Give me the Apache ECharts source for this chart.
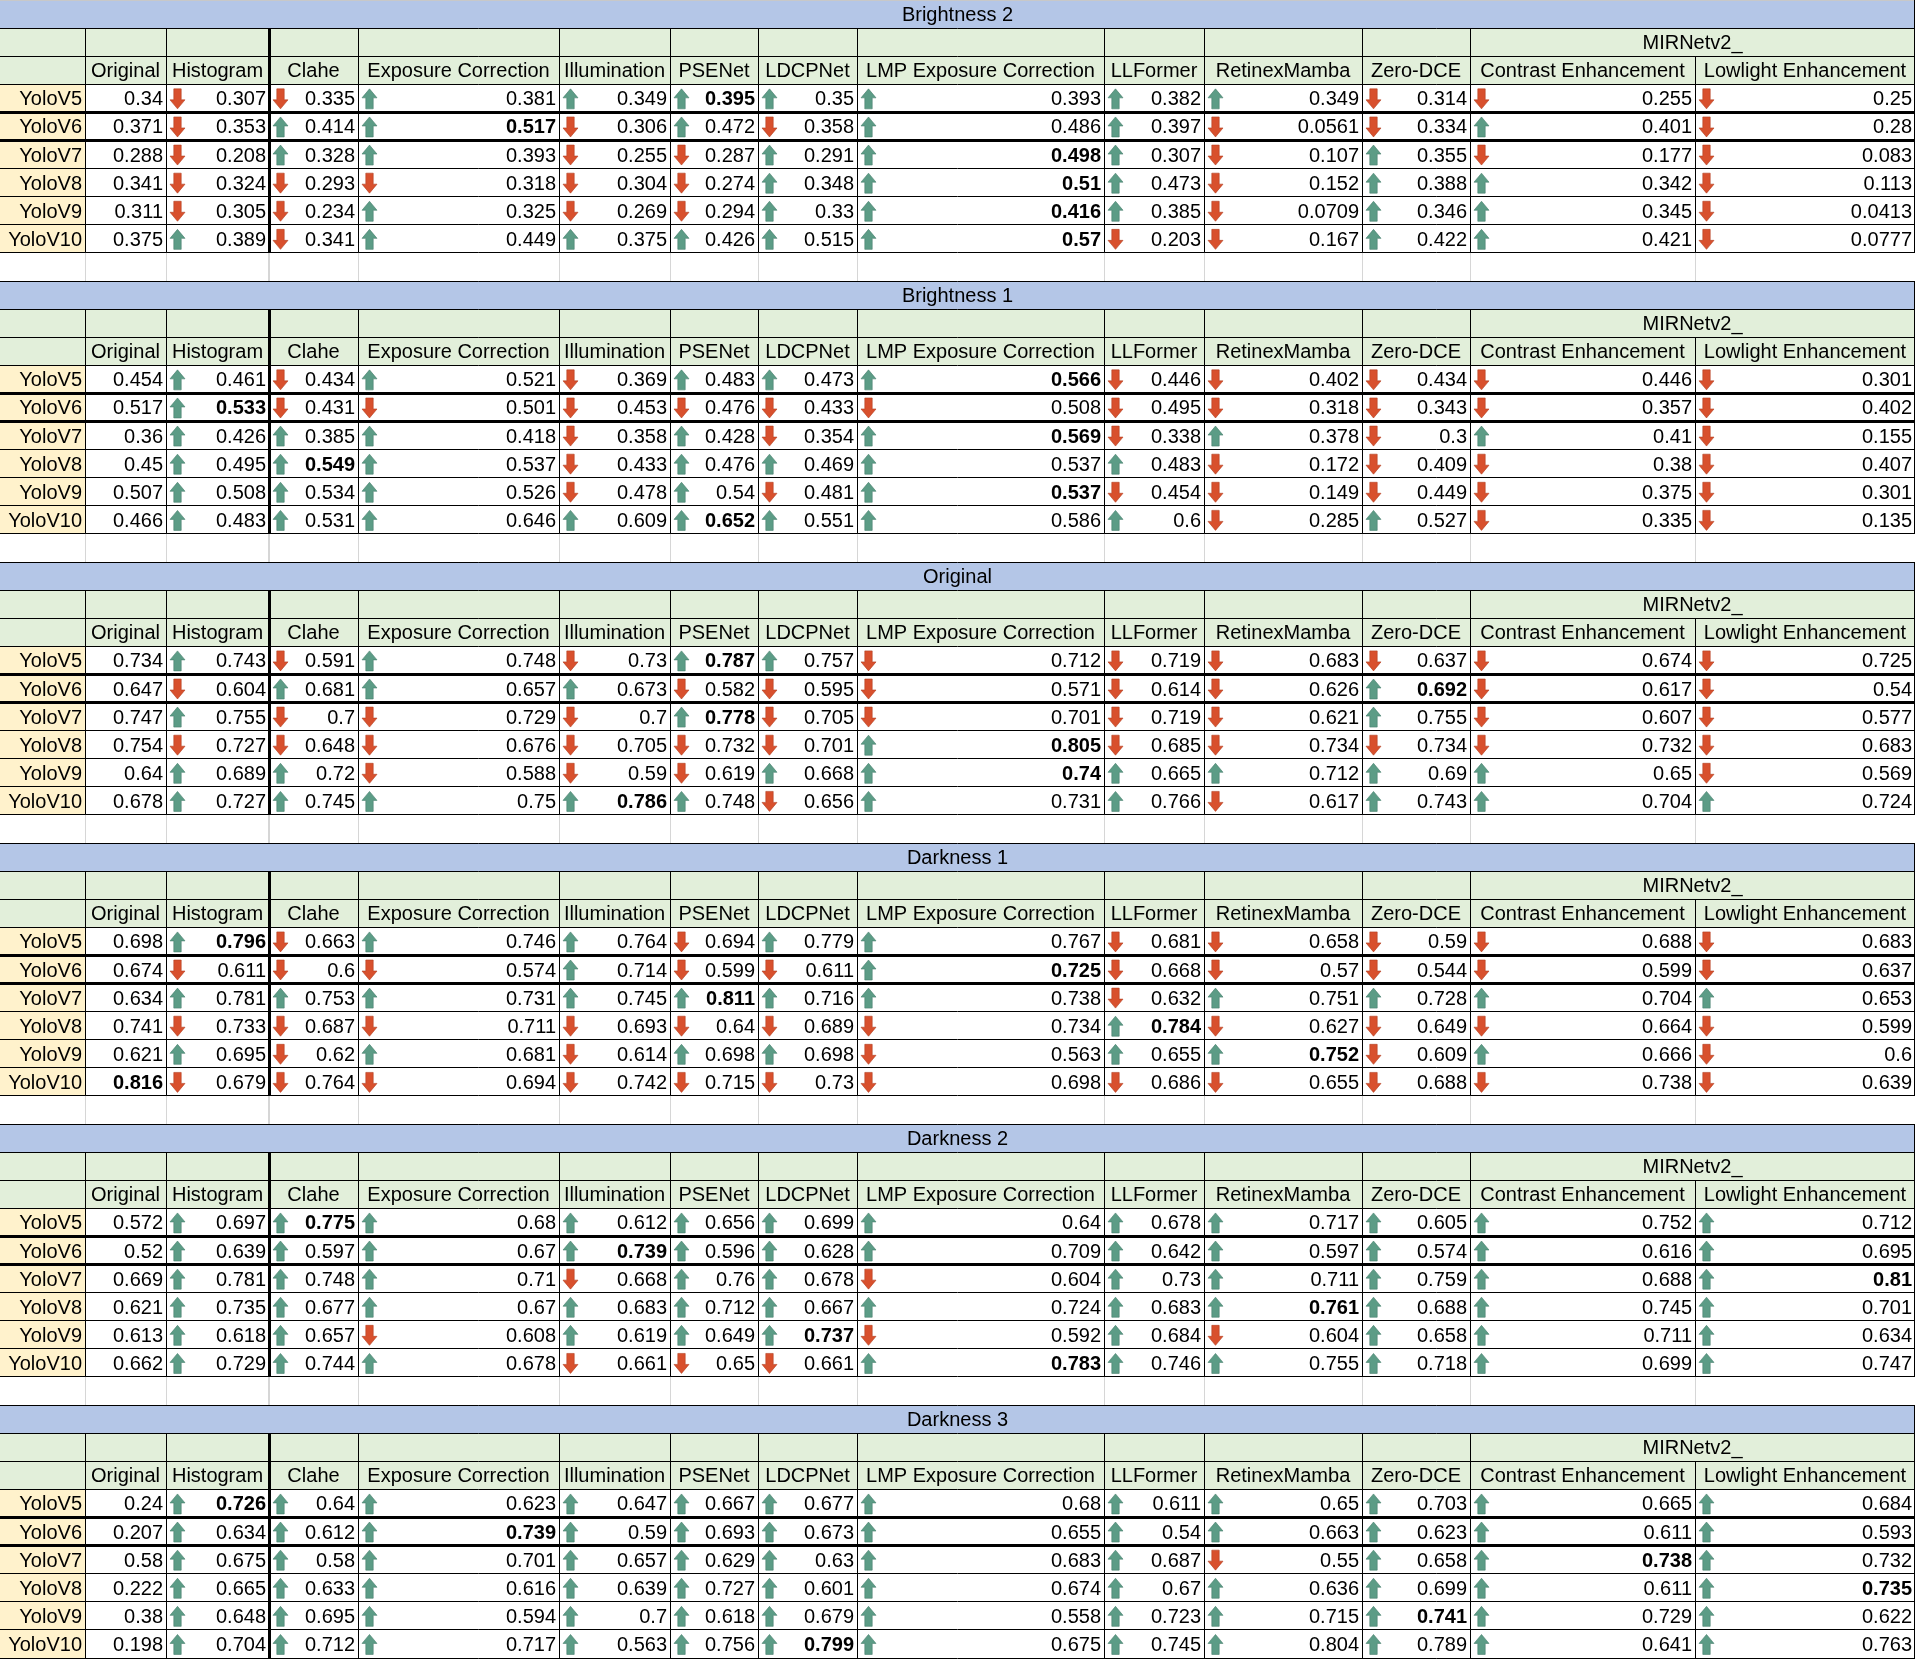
<!DOCTYPE html>
<html>
<head>
<meta charset="utf-8">
<script src="https://cdn.jsdelivr.net/npm/echarts@6/dist/echarts.min.js"></script>
<style>
html, body { margin: 0; padding: 0; background: #fff; }
#chart { width: 1927px; height: 1669px; }
</style>
</head>
<body>
<div id="chart"></div>
<script>
// 表格数据
var models = ['YoloV5', 'YoloV6', 'YoloV7', 'YoloV8', 'YoloV9', 'YoloV10'];
var methods = ['Original', 'Histogram', 'Clahe', 'Exposure Correction', 'Illumination', 'PSENet', 'LDCPNet',
    'LMP Exposure Correction', 'LLFormer', 'RetinexMamba', 'Zero-DCE', 'Contrast Enhancement', 'Lowlight Enhancement'];
var groupLabel = 'MIRNetv2_';
var blockTitles = ['Brightness 2', 'Brightness 1', 'Original', 'Darkness 1', 'Darkness 2', 'Darkness 3'];

var brightness2 = [
    [0.34, 0.307, 0.335, 0.381, 0.349, 0.395, 0.35, 0.393, 0.382, 0.349, 0.314, 0.255, 0.25],
    [0.371, 0.353, 0.414, 0.517, 0.306, 0.472, 0.358, 0.486, 0.397, 0.0561, 0.334, 0.401, 0.28],
    [0.288, 0.208, 0.328, 0.393, 0.255, 0.287, 0.291, 0.498, 0.307, 0.107, 0.355, 0.177, 0.083],
    [0.341, 0.324, 0.293, 0.318, 0.304, 0.274, 0.348, 0.51, 0.473, 0.152, 0.388, 0.342, 0.113],
    [0.311, 0.305, 0.234, 0.325, 0.269, 0.294, 0.33, 0.416, 0.385, 0.0709, 0.346, 0.345, 0.0413],
    [0.375, 0.389, 0.341, 0.449, 0.375, 0.426, 0.515, 0.57, 0.203, 0.167, 0.422, 0.421, 0.0777]
];
var brightness1 = [
    [0.454, 0.461, 0.434, 0.521, 0.369, 0.483, 0.473, 0.566, 0.446, 0.402, 0.434, 0.446, 0.301],
    [0.517, 0.533, 0.431, 0.501, 0.453, 0.476, 0.433, 0.508, 0.495, 0.318, 0.343, 0.357, 0.402],
    [0.36, 0.426, 0.385, 0.418, 0.358, 0.428, 0.354, 0.569, 0.338, 0.378, 0.3, 0.41, 0.155],
    [0.45, 0.495, 0.549, 0.537, 0.433, 0.476, 0.469, 0.537, 0.483, 0.172, 0.409, 0.38, 0.407],
    [0.507, 0.508, 0.534, 0.526, 0.478, 0.54, 0.481, 0.537, 0.454, 0.149, 0.449, 0.375, 0.301],
    [0.466, 0.483, 0.531, 0.646, 0.609, 0.652, 0.551, 0.586, 0.6, 0.285, 0.527, 0.335, 0.135]
];
var originalSet = [
    [0.734, 0.743, 0.591, 0.748, 0.73, 0.787, 0.757, 0.712, 0.719, 0.683, 0.637, 0.674, 0.725],
    [0.647, 0.604, 0.681, 0.657, 0.673, 0.582, 0.595, 0.571, 0.614, 0.626, 0.692, 0.617, 0.54],
    [0.747, 0.755, 0.7, 0.729, 0.7, 0.778, 0.705, 0.701, 0.719, 0.621, 0.755, 0.607, 0.577],
    [0.754, 0.727, 0.648, 0.676, 0.705, 0.732, 0.701, 0.805, 0.685, 0.734, 0.734, 0.732, 0.683],
    [0.64, 0.689, 0.72, 0.588, 0.59, 0.619, 0.668, 0.74, 0.665, 0.712, 0.69, 0.65, 0.569],
    [0.678, 0.727, 0.745, 0.75, 0.786, 0.748, 0.656, 0.731, 0.766, 0.617, 0.743, 0.704, 0.724]
];
var darkness1 = [
    [0.698, 0.796, 0.663, 0.746, 0.764, 0.694, 0.779, 0.767, 0.681, 0.658, 0.59, 0.688, 0.683],
    [0.674, 0.611, 0.6, 0.574, 0.714, 0.599, 0.611, 0.725, 0.668, 0.57, 0.544, 0.599, 0.637],
    [0.634, 0.781, 0.753, 0.731, 0.745, 0.811, 0.716, 0.738, 0.632, 0.751, 0.728, 0.704, 0.653],
    [0.741, 0.733, 0.687, 0.711, 0.693, 0.64, 0.689, 0.734, 0.784, 0.627, 0.649, 0.664, 0.599],
    [0.621, 0.695, 0.62, 0.681, 0.614, 0.698, 0.698, 0.563, 0.655, 0.752, 0.609, 0.666, 0.6],
    [0.816, 0.679, 0.764, 0.694, 0.742, 0.715, 0.73, 0.698, 0.686, 0.655, 0.688, 0.738, 0.639]
];
var darkness2 = [
    [0.572, 0.697, 0.775, 0.68, 0.612, 0.656, 0.699, 0.64, 0.678, 0.717, 0.605, 0.752, 0.712],
    [0.52, 0.639, 0.597, 0.67, 0.739, 0.596, 0.628, 0.709, 0.642, 0.597, 0.574, 0.616, 0.695],
    [0.669, 0.781, 0.748, 0.71, 0.668, 0.76, 0.678, 0.604, 0.73, 0.711, 0.759, 0.688, 0.81],
    [0.621, 0.735, 0.677, 0.67, 0.683, 0.712, 0.667, 0.724, 0.683, 0.761, 0.688, 0.745, 0.701],
    [0.613, 0.618, 0.657, 0.608, 0.619, 0.649, 0.737, 0.592, 0.684, 0.604, 0.658, 0.711, 0.634],
    [0.662, 0.729, 0.744, 0.678, 0.661, 0.65, 0.661, 0.783, 0.746, 0.755, 0.718, 0.699, 0.747]
];
var darkness3 = [
    [0.24, 0.726, 0.64, 0.623, 0.647, 0.667, 0.677, 0.68, 0.611, 0.65, 0.703, 0.665, 0.684],
    [0.207, 0.634, 0.612, 0.739, 0.59, 0.693, 0.673, 0.655, 0.54, 0.663, 0.623, 0.611, 0.593],
    [0.58, 0.675, 0.58, 0.701, 0.657, 0.629, 0.63, 0.683, 0.687, 0.55, 0.658, 0.738, 0.732],
    [0.222, 0.665, 0.633, 0.616, 0.639, 0.727, 0.601, 0.674, 0.67, 0.636, 0.699, 0.611, 0.735],
    [0.38, 0.648, 0.695, 0.594, 0.7, 0.618, 0.679, 0.558, 0.723, 0.715, 0.741, 0.729, 0.622],
    [0.198, 0.704, 0.712, 0.717, 0.563, 0.756, 0.799, 0.675, 0.745, 0.804, 0.789, 0.641, 0.763]
];

// 每行加粗的列（methods 下标）
var boldBrightness2 = [5, 3, 7, 7, 7, 7];
var boldBrightness1 = [7, 1, 7, 2, 7, 5];
var boldOriginal = [5, 10, 5, 7, 7, 4];
var boldDarkness1 = [1, 7, 5, 8, 9, 0];
var boldDarkness2 = [2, 4, 12, 9, 6, 7];
var boldDarkness3 = [1, 3, 11, 12, 10, 6];

var blockValues = [brightness2, brightness1, originalSet, darkness1, darkness2, darkness3];
var blockBold = [boldBrightness2, boldBrightness1, boldOriginal, boldDarkness1, boldDarkness2, boldDarkness3];

// 布局：列宽（像素单位，作为 x 轴刻度）
var colWidths = [85, 81, 103, 89, 201, 111, 88, 99, 247, 100, 158, 108, 225, 220];
var colEdges = [0];
colWidths.forEach(function (w) { colEdges.push(colEdges[colEdges.length - 1] + w); });
var TOTAL_W = colEdges[colEdges.length - 1];
var ROWS_PER_BLOCK = 10;
var TOTAL_ROWS = blockTitles.length * ROWS_PER_BLOCK - 1;

var FONT = '"Liberation Sans", Arial, sans-serif';
var C_TITLE = '#b4c6e7', C_HEAD = '#e2efda', C_LABEL = '#fff2cc';
var C_UP = '#5c9c86', C_UP_EDGE = '#467e6b', C_DOWN = '#d8502d', C_DOWN_EDGE = '#b23e20';

// 单元格
var cellData = [], cellMeta = [];
function addCell(e0, e1, row, meta) {
    cellData.push([colEdges[e0], row, colEdges[e1], row + 1]);
    cellMeta.push(meta);
}
// 线条
var lineData = [], lineMeta = [];
function addLine(x0, y0, x1, y1, color, width) {
    lineData.push([x0, y0, x1, y1]);
    lineMeta.push({ color: color, width: width });
}

blockTitles.forEach(function (title, b) {
    var base = b * ROWS_PER_BLOCK;
    var vals = blockValues[b];
    addCell(0, 14, base, { fill: C_TITLE, text: title, align: 'center' });
    // 表头第一行
    for (var c = 0; c < 12; c++) addCell(c, c + 1, base + 1, { fill: C_HEAD });
    addCell(12, 14, base + 1, { fill: C_HEAD, text: groupLabel, align: 'center' });
    // 表头第二行
    addCell(0, 1, base + 2, { fill: C_HEAD });
    methods.forEach(function (m, i) {
        addCell(i + 1, i + 2, base + 2, { fill: C_HEAD, text: m, align: 'center' });
    });
    // 数据行
    models.forEach(function (model, r) {
        var row = base + 3 + r;
        addCell(0, 1, row, { fill: C_LABEL, text: model, align: 'right' });
        vals[r].forEach(function (v, i) {
            addCell(i + 1, i + 2, row, {
                fill: '#fff',
                text: String(v),
                align: 'right',
                bold: blockBold[b][r] === i,
                arrow: i === 0 ? null : (v >= vals[r][0] ? 'up' : 'down')
            });
        });
    });

    // 横线
    var dataEnd = base + 9;
    addLine(0, base, TOTAL_W, base, b === 0 ? '#c8c8c8' : '#000', 1);
    for (var y = base + 1; y <= dataEnd; y++) {
        var thick = (y === base + 4 || y === base + 5);
        addLine(0, y, TOTAL_W, y, '#000', thick ? 3 : 1);
    }
    // 竖线
    for (var e = 1; e <= 14; e++) {
        var w = e === 3 ? 3 : 1;
        if (e !== 13) addLine(colEdges[e], base + 1, colEdges[e], base + 2, '#000', w);
        addLine(colEdges[e], base + 2, colEdges[e], dataEnd, '#000', w);
        if (b < blockTitles.length - 1 && e < 14) {
            addLine(colEdges[e], dataEnd, colEdges[e], dataEnd + 1, '#d6d6d6', e === 3 ? 2 : 1);
        }
    }
    addLine(TOTAL_W, base, TOTAL_W, base + 1, '#000', 1);
});

// 箭头图形（15 x 20）
function arrowPoints(x, top, dir) {
    var pts = [[7.5, 0], [15, 9], [11.2, 9], [11.2, 20], [3.8, 20], [3.8, 9], [0, 9]];
    return pts.map(function (p) {
        return [x + p[0], dir === 'up' ? top + p[1] : top + 20 - p[1]];
    });
}

function crisp(v, w) {
    return w % 2 === 1 ? Math.round(v - 0.5) + 0.5 : Math.round(v);
}

var chart = echarts.init(document.getElementById('chart'));
chart.setOption({
    animation: false,
    backgroundColor: '#fff',
    grid: { left: 0, top: 0, width: TOTAL_W, height: 1658 },
    xAxis: { type: 'value', min: 0, max: TOTAL_W, show: false },
    yAxis: { type: 'value', min: 0, max: TOTAL_ROWS, inverse: true, show: false },
    series: [
        {
            type: 'custom',
            clip: false,
            data: cellData,
            renderItem: function (params, api) {
                var p0 = api.coord([api.value(0), api.value(1)]);
                var p1 = api.coord([api.value(2), api.value(3)]);
                var m = cellMeta[params.dataIndex];
                var children = [{
                    type: 'rect',
                    shape: { x: p0[0], y: p0[1], width: p1[0] - p0[0], height: p1[1] - p0[1] },
                    style: { fill: m.fill }
                }];
                var mid = (p0[1] + p1[1]) / 2;
                if (m.text) {
                    var tx = m.align === 'right' ? p1[0] - 3 : (p0[0] + p1[0]) / 2;
                    children.push({
                        type: 'text',
                        style: {
                            text: m.text, x: tx, y: mid + 1.5,
                            align: m.align, verticalAlign: 'middle',
                            fontSize: 20, fontFamily: FONT,
                            fontWeight: m.bold ? 'bold' : 'normal',
                            fill: '#000'
                        }
                    });
                }
                if (m.arrow) {
                    var up = m.arrow === 'up';
                    children.push({
                        type: 'polygon',
                        shape: { points: arrowPoints(p0[0] + 4, mid - 9.5, m.arrow) },
                        style: { fill: up ? C_UP : C_DOWN, stroke: up ? C_UP_EDGE : C_DOWN_EDGE, lineWidth: 0.6 }
                    });
                }
                return { type: 'group', children: children };
            },
            z: 1
        },
        {
            type: 'custom',
            clip: false,
            data: lineData,
            renderItem: function (params, api) {
                var a = api.coord([api.value(0), api.value(1)]);
                var b = api.coord([api.value(2), api.value(3)]);
                var st = lineMeta[params.dataIndex];
                var x1 = a[0], y1 = a[1], x2 = b[0], y2 = b[1];
                if (y1 === y2) { y1 = y2 = crisp(y1, st.width); }
                if (x1 === x2) { x1 = x2 = crisp(Math.min(x1, TOTAL_W - 1), st.width); }
                return {
                    type: 'line',
                    shape: { x1: x1, y1: y1, x2: x2, y2: y2 },
                    style: { stroke: st.color, lineWidth: st.width }
                };
            },
            z: 2
        }
    ]
});
</script>
</body>
</html>
